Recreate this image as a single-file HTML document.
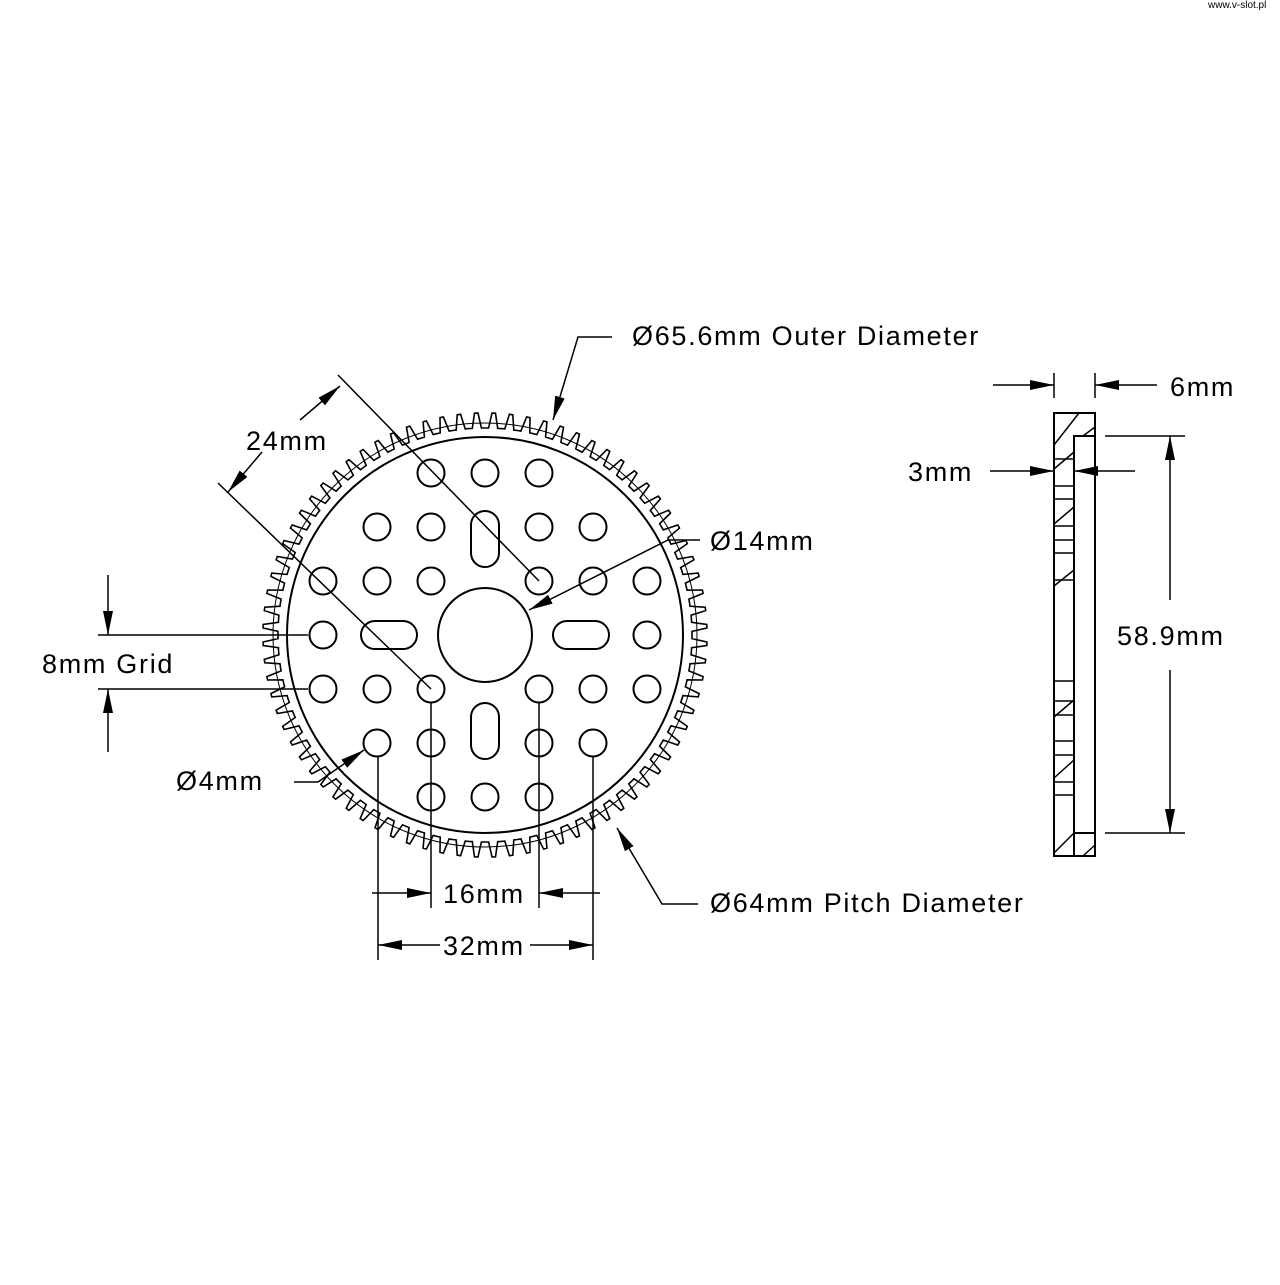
<!DOCTYPE html>
<html><head><meta charset="utf-8"><style>
body{margin:0;background:#fff}
svg text{font-family:"Liberation Sans",sans-serif;font-size:27px;fill:#000;letter-spacing:1.7px}
</style></head><body>
<svg id="s" width="1280" height="1280" viewBox="0 0 1280 1280" xmlns="http://www.w3.org/2000/svg">
<defs><marker id="a" viewBox="0 0 24 12" refX="24" refY="6" markerWidth="24" markerHeight="12" markerUnits="userSpaceOnUse" orient="auto"><path d="M0,1 L24,6 L0,11 z" fill="#000"/></marker></defs>
<text x="1208" y="8" style="font-size:10px;letter-spacing:0">www.v-slot.pl</text>
<g fill="none" stroke="#000" stroke-width="2">
<path id="teeth" stroke-width="1.6"/>
<circle cx="485" cy="635" r="212" stroke-width="1"/>
<circle cx="485" cy="635" r="198"/>
<circle cx="485" cy="635" r="47"/>
<g id="holes"></g>
<rect x="471" y="511" width="28" height="56" rx="14"/>
<rect x="471" y="703" width="28" height="56" rx="14"/>
<rect x="361" y="621" width="56" height="28" rx="14"/>
<rect x="553" y="621" width="56" height="28" rx="14"/>
</g>
<g fill="none" stroke="#000" stroke-width="1.5">
<line x1="338" y1="375" x2="539" y2="581"/>
<line x1="218" y1="483" x2="431" y2="689"/>
<line x1="300" y1="420" x2="340" y2="386" marker-end="url(#a)"/>
<line x1="262" y1="452" x2="228" y2="492" marker-end="url(#a)"/>
<polyline points="612,337 578,337 553,420" marker-end="url(#a)"/>
<polyline points="700,540 668,540 529,610" marker-end="url(#a)"/>
<polyline points="698,904 662,904 617,828" marker-end="url(#a)"/>
<polyline points="294,782 318,782 364,750" marker-end="url(#a)"/>
<line x1="98" y1="635" x2="308" y2="635"/>
<line x1="98" y1="689" x2="308" y2="689"/>
<line x1="108" y1="575" x2="108" y2="635" marker-end="url(#a)"/>
<line x1="108" y1="752" x2="108" y2="689" marker-end="url(#a)"/>
<line x1="378" y1="757" x2="378" y2="960"/>
<line x1="593" y1="757" x2="593" y2="960"/>
<line x1="431" y1="703" x2="431" y2="908"/>
<line x1="539" y1="703" x2="539" y2="908"/>
<line x1="372" y1="893" x2="431" y2="893" marker-end="url(#a)"/>
<line x1="600" y1="893" x2="539" y2="893" marker-end="url(#a)"/>
<line x1="440" y1="945" x2="378" y2="945" marker-end="url(#a)"/>
<line x1="530" y1="945" x2="593" y2="945" marker-end="url(#a)"/>
<rect x="1054" y="413" width="41" height="443" stroke-width="2"/>
<polyline points="1074,856 1074,436 1095,436" stroke-width="2"/>
<line x1="1074" y1="833" x2="1095" y2="833" stroke-width="2"/>
<g id="side"></g>
<line x1="1054" y1="373" x2="1054" y2="398"/>
<line x1="1095" y1="373" x2="1095" y2="398"/>
<line x1="993" y1="385" x2="1054" y2="385" marker-end="url(#a)"/>
<line x1="1157" y1="385" x2="1095" y2="385" marker-end="url(#a)"/>
<line x1="990" y1="471" x2="1054" y2="471" marker-end="url(#a)"/>
<line x1="1135" y1="471" x2="1074" y2="471" marker-end="url(#a)"/>
<line x1="1105" y1="436" x2="1185" y2="436"/>
<line x1="1105" y1="833" x2="1185" y2="833"/>
<line x1="1170" y1="600" x2="1170" y2="436" marker-end="url(#a)"/>
<line x1="1170" y1="670" x2="1170" y2="833" marker-end="url(#a)"/>
</g>
<text x="632" y="345">Ø65.6mm Outer Diameter</text>
<text x="246" y="450">24mm</text>
<text x="710" y="550">Ø14mm</text>
<text x="42" y="673">8mm Grid</text>
<text x="176" y="790">Ø4mm</text>
<text x="443" y="903">16mm</text>
<text x="443" y="955">32mm</text>
<text x="710" y="912">Ø64mm Pitch Diameter</text>
<text x="1170" y="396">6mm</text>
<text x="908" y="481">3mm</text>
<text x="1117" y="645">58.9mm</text>
</svg>
<script>
var cx=485,cy=635,N=80,d="";
for(var i=0;i<N;i++){var t=i/N*2*Math.PI,s=2*Math.PI/N;
var pts=[[t,207],[t+s*0.22,207],[t+s*0.4,222],[t+s*0.6,222],[t+s*0.78,207]];
pts.forEach(function(p,j){var x=cx+p[1]*Math.cos(p[0]),y=cy+p[1]*Math.sin(p[0]);d+=(i==0&&j==0?"M":"L")+x.toFixed(1)+","+y.toFixed(1);});}
document.getElementById("teeth").setAttribute("d",d+"Z");
var H=[[431,473],[485,473],[539,473],[377,527],[431,527],[539,527],[593,527],[323,581],[377,581],[431,581],[539,581],[593,581],[647,581],[323,635],[647,635],[323,689],[377,689],[431,689],[539,689],[593,689],[647,689],[377,743],[431,743],[539,743],[593,743],[431,797],[485,797],[539,797]];
var g=document.getElementById("holes"),ns="http://www.w3.org/2000/svg";
H.forEach(function(h){var c=document.createElementNS(ns,"circle");c.setAttribute("cx",h[0]);c.setAttribute("cy",h[1]);c.setAttribute("r",13.5);g.appendChild(c);});
var sd=document.getElementById("side");
[459,486,499,526,540,553,580,681,701,715,741,755,782,795].forEach(function(y){var l=document.createElementNS(ns,"line");l.setAttribute("x1",1054);l.setAttribute("x2",1074);l.setAttribute("y1",y);l.setAttribute("y2",y);sd.appendChild(l);});
[[1054,445,1079,413],[1054,469,1074,452],[1054,524,1074,507],[1054,586,1074,570],[1054,717,1074,700],[1054,778,1074,760],[1054,853,1074,833],[1083,856,1095,845],[1083,436,1095,427]].forEach(function(p){var l=document.createElementNS(ns,"line");l.setAttribute("x1",p[0]);l.setAttribute("y1",p[1]);l.setAttribute("x2",p[2]);l.setAttribute("y2",p[3]);sd.appendChild(l);});
</script>
</body></html>
